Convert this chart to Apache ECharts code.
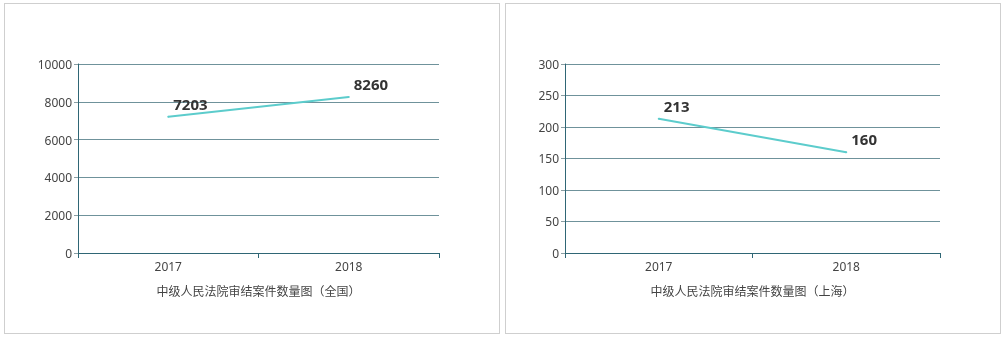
<!DOCTYPE html>
<html><head><meta charset="utf-8">
<script src="https://cdn.jsdelivr.net/npm/echarts@6/dist/echarts.min.js"></script>
<style>
html,body{margin:0;padding:0;background:#fff;width:1005px;height:339px;overflow:hidden;}
.panel{position:absolute;top:3px;height:329px;width:494px;border:1px solid #cfcfcf;background:#fff;}
#c1{left:4px;}
#c2{left:505px;}
</style></head>
<body>
<div id="c1" class="panel"></div>
<div id="c2" class="panel"></div>
<script>
const categories = ['2017', '2018'];
const nationalValues = [7203, 8260];
const shanghaiValues = [213, 160];
const nationalTitle = '中级人民法院审结案件数量图（全国）';
const shanghaiTitle = '中级人民法院审结案件数量图（上海）';

const axisColor = '#2f6675';
const splitColor = '#6f929b';
const font = '"Noto Sans","Noto Sans CJK SC",sans-serif';

function makeOption(gridLeft, gridWidth, values, max, interval, name) {
  return {
    animation: false,
    grid: {left: gridLeft, top: 60, width: gridWidth, height: 189},
    xAxis: {
      type: 'category', data: categories, boundaryGap: true,
      name: name, nameLocation: 'middle', nameGap: 34,
      nameTextStyle: {color: '#444', fontSize: 12, fontFamily: font},
      axisLine: {lineStyle: {color: axisColor, width: 1}},
      axisTick: {show: true, length: 5, lineStyle: {color: axisColor}},
      axisLabel: {color: '#444', fontSize: 12, margin: 9, fontFamily: font}
    },
    yAxis: {
      type: 'value', min: 0, max: max, interval: interval,
      axisLine: {show: true, lineStyle: {color: axisColor, width: 1}},
      axisTick: {show: true, length: 4, lineStyle: {color: '#8a9ea3'}},
      axisLabel: {color: '#444', fontSize: 12, margin: 6, fontFamily: font,
        formatter: function (v) { return '{a|' + v + '}'; },
        rich: {a: {color: '#444', fontSize: 12, fontFamily: font, padding: [3, 0, 0, 0]}}},
      splitLine: {show: true, lineStyle: {color: splitColor, width: 1}}
    },
    series: [{
      type: 'line', data: values, showSymbol: true, symbol: 'circle', symbolSize: 2,
      itemStyle: {color: '#5ccccc'},
      lineStyle: {color: '#5ccccc', width: 2},
      label: {show: true, position: 'top', align: 'left', offset: [5, 0], distance: 3,
        color: '#333', fontSize: 15, fontWeight: 'bold', fontFamily: font}
    }]
  };
}

const ch1 = echarts.init(document.getElementById('c1'));
ch1.setOption(makeOption(73, 361, nationalValues, 10000, 2000, nationalTitle));
const ch2 = echarts.init(document.getElementById('c2'));
ch2.setOption(makeOption(59, 375, shanghaiValues, 300, 50, shanghaiTitle));
</script>
</body></html>
